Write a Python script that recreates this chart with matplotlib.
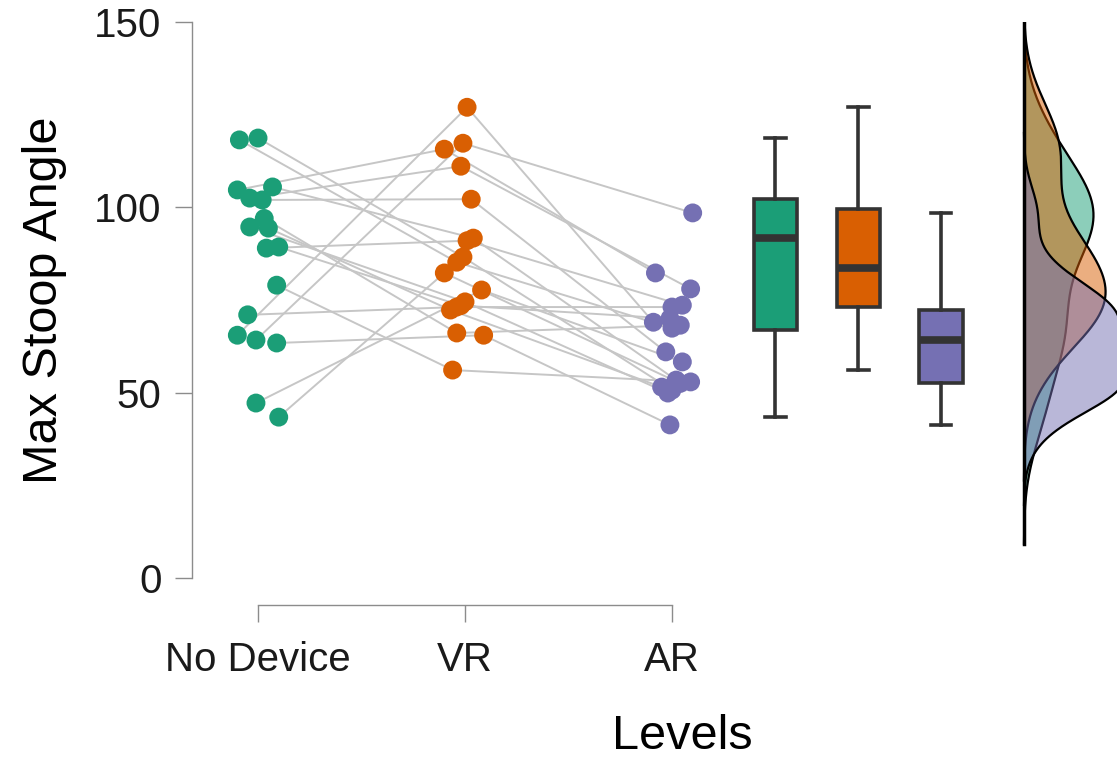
import numpy as np
import matplotlib.pyplot as plt

plt.rcParams['font.family'] = ['Liberation Sans', 'DejaVu Sans']

levels = ["No Device", "VR", "AR"]
colors = ["#1b9e77", "#d95f02", "#7570b3"]

# one entry per participant, same order in every condition
no_device = [118.2, 118.7, 104.7, 105.5, 102.5, 102.0, 97.0, 94.7, 94.4,
             89.0, 89.3, 79.0, 71.0, 65.5, 64.2, 63.4, 47.2, 43.4]
vr = [85.2, 86.6, 115.7, 91.7, 111.1, 102.2, 66.1, 74.5, 72.3,
      91.0, 73.5, 56.1, 73.1, 127.0, 117.3, 65.5, 77.7, 82.3]
ar = [67.4, 50.7, 82.3, 53.4, 78.0, 61.0, 68.2, 49.9, 51.5,
      73.6, 70.0, 52.9, 73.1, 69.0, 98.5, 41.3, 58.3, 52.5]

# horizontal jitter of the dots (category units)
jit_nd = [-0.09, 0.0, -0.10, 0.07, -0.04, 0.02, 0.03, -0.04, 0.05,
          0.04, 0.10, 0.09, -0.05, -0.10, -0.01, 0.09, -0.01, 0.10]
jit_vr = [-0.04, -0.01, -0.10, 0.04, -0.02, 0.03, -0.04, 0.0, -0.07,
          0.01, -0.02, -0.06, -0.04, 0.01, -0.01, 0.09, 0.08, -0.10]
jit_ar = [0.0, 0.0, -0.08, 0.02, 0.09, -0.03, 0.04, -0.02, -0.05,
          0.05, -0.01, 0.09, 0.0, -0.09, 0.10, -0.01, 0.05, 0.04]


def r_density(x, grid):
    # gaussian kde with R's bw.nrd0 bandwidth
    x = np.asarray(x)
    iqr = np.subtract(*np.percentile(x, [75, 25]))
    bw = 0.9 * min(x.std(ddof=1), iqr / 1.34) * len(x) ** -0.2
    d = np.exp(-0.5 * ((grid[:, None] - x[None, :]) / bw) ** 2).sum(1)
    return d / (len(x) * bw * np.sqrt(2 * np.pi)), bw


groups = [no_device, vr, ar]
jitters = [jit_nd, jit_vr, jit_ar]

fig = plt.figure(figsize=(11.17, 7.6), dpi=100)
ax = fig.add_axes([0.1719, 0.2395, 0.8281, 0.7315])

# paired lines
xs = np.arange(3)[:, None] + np.array(jitters)
ys = np.array(groups)
for i in range(ys.shape[1]):
    ax.plot(xs[:, i], ys[:, i], color="#c6c6c6", lw=1.4, zorder=1)

for k in range(3):
    ax.scatter(xs[k], ys[k], s=185, color=colors[k], edgecolors="none", zorder=3)

# boxes
box_pos = [2.5, 2.9, 3.3]
bp = ax.boxplot(groups, positions=box_pos, widths=0.21, whis=(0, 100),
                patch_artist=True, manage_ticks=False, capwidths=0.1,
                boxprops=dict(edgecolor="#333333", lw=2.6),
                whiskerprops=dict(color="#333333", lw=2.6),
                capprops=dict(color="#333333", lw=2.6),
                medianprops=dict(color="#333333", lw=5.5, solid_capstyle="butt"))
for patch, c in zip(bp["boxes"], colors):
    patch.set_facecolor(c)

# densities
base = 3.70
scale = 20.0
lo_all = []
for k in range(3):
    x = np.asarray(groups[k])
    _, bw = r_density(x, np.array([0.0]))
    grid = np.linspace(x.min() - 3 * bw, min(x.max() + 3 * bw, 150), 400)
    dens, _ = r_density(x, grid)
    lo_all.append(grid[0])
    ax.fill_betweenx(grid, base, base + dens * scale, color=colors[k], alpha=0.5,
                     lw=0, zorder=2)
    ax.plot(base + dens * scale, grid, color="black", lw=1.6, zorder=2)
ax.plot([base, base], [min(lo_all), 150], color="black", lw=2.5, zorder=2)

ax.set_xlim(-0.319, 4.15)
ax.set_ylim(0, 150)

for s in ["top", "right"]:
    ax.spines[s].set_visible(False)
ax.spines["left"].set_bounds(0, 150)
ax.spines["bottom"].set_bounds(0, 2)
ax.spines["bottom"].set_position(("outward", 19.5))
for s in ["left", "bottom"]:
    ax.spines[s].set_color("#8c8c8c")
    ax.spines[s].set_linewidth(1.0)

ax.set_yticks([0, 50, 100, 150])
ax.set_xticks([0, 1, 2])
ax.set_xticklabels(levels)
ax.tick_params(axis="both", direction="out", length=12, width=1.0,
               color="#8c8c8c", labelsize=29, labelcolor="#1a1a1a")
ax.tick_params(axis="y", pad=10)
ax.tick_params(axis="x", pad=14)

ax.set_ylabel("Max Stoop Angle", fontsize=35, va="center")
ax.yaxis.set_label_coords(-0.159, 0.5)
ax.set_xlabel("Levels", fontsize=35, va="center")
ax.xaxis.set_label_coords(0.53, -0.286)

fig.savefig("out.png", dpi=100)
